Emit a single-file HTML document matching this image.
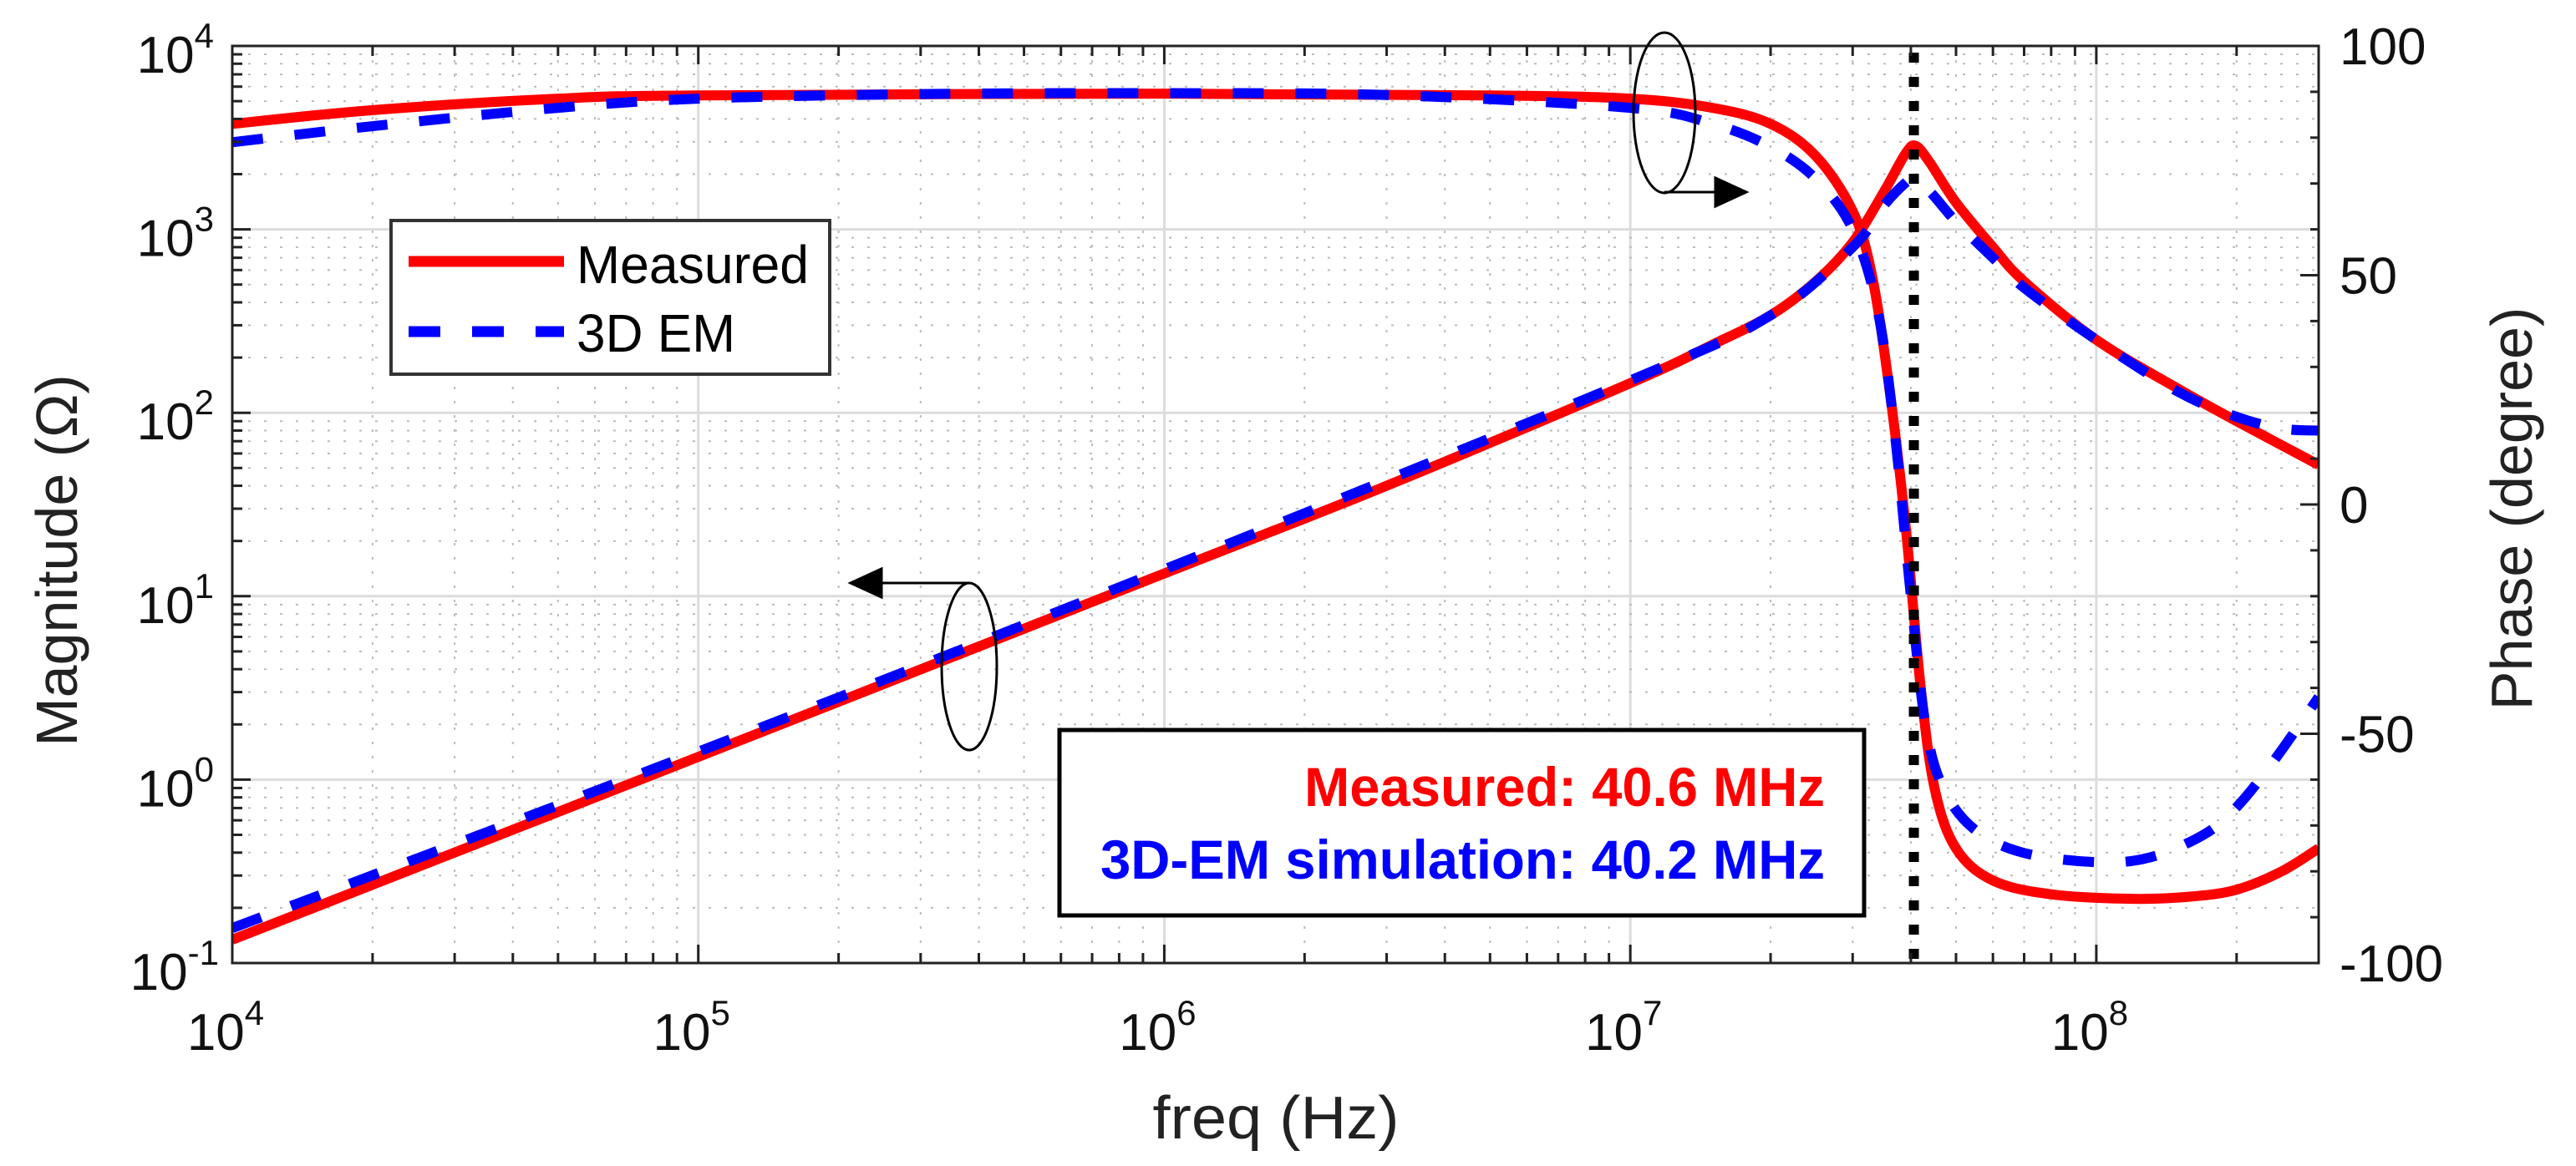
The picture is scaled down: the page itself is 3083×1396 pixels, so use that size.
<!DOCTYPE html>
<html><head><meta charset="utf-8"><style>
html,body{margin:0;padding:0;background:#fff;}
svg{display:block;font-family:"Liberation Sans",Arial,sans-serif;}
</style></head><body>
<svg id="chart" width="3083" height="1396" viewBox="0 0 3083 1396" xmlns="http://www.w3.org/2000/svg">
<g id="grid"></g>
<g id="series"></g>
<g id="axes"></g>
</svg>
<script>
// ---- data ----
const xDecades = [4,5,6,7,8];
const yDecades = [-1,0,1,2,3,4];
const phaseTicks = [100,50,0,-50,-100];
const magMeasuredF = [1e4,1e5,1e6,3e6,1e7,1.5e7,2e7,2.5e7,3e7,3.5e7,3.9e7,4.1e7,4.4e7,5e7,6e7,7e7,1e8,1.5e8,2e8,3e8];
const magMeasuredV = [0.134,1.33,13.3,40,145,235,340,520,850,1600,2600,2850,2300,1400,800,520,250,135,90,52];
const magEMF = [1e4,1e5,1e6,1e7,2e7,3e7,3.5e7,3.9e7,4.05e7,4.4e7,5e7,6e7,7e7,1e8,1.5e8,2e8,2.5e8,3e8];
const magEMV = [0.155,1.42,14,150,340,800,1350,1800,1880,1600,1100,700,480,250,130,95,82,80];
const phMeasuredF = [1e4,2e4,5e4,1e5,1e6,5e6,1e7,1.5e7,2e7,2.5e7,3e7,3.3e7,3.6e7,3.9e7,4.2e7,4.5e7,5e7,6e7,8e7,1.2e8,1.6e8,2e8,2.5e8,3e8];
const phMeasuredV = [83,86,88.5,89.2,89.6,89.2,88.5,86.5,83,76,64,50,25,-5,-40,-62,-75,-82,-85,-86,-85.5,-84,-80,-75];
const phEMF = [1e4,2e4,5e4,1e5,3e5,1e6,3e6,1e7,1.5e7,2e7,2.5e7,3e7,3.4e7,3.7e7,4e7,4.3e7,4.7e7,5.5e7,7e7,1e8,1.3e8,1.7e8,2e8,2.4e8,3e8];
const phEMV = [79,82.5,86.5,88.5,89.5,89.7,89.3,86.5,83,78,71,60,42,15,-20,-48,-62,-71,-76,-78,-77,-72,-66,-56,-42];
const resonanceF = [40.6e6];

// ---- layout ----
const L=278,R=2775,T=55,B=1153;
const xMin=4, xMax=Math.log10(3e8);
const X = f => L + (Math.log10(f)-xMin)/(xMax-xMin)*(R-L);
const YM = v => B - (Math.log10(v)+1)/5*(B-T);
const YP = p => B - (p+100)/200*(B-T);
const NS="http://www.w3.org/2000/svg";
function mk(tag, attrs, parent){const e=document.createElementNS(NS,tag);for(const k in attrs)e.setAttribute(k,attrs[k]);parent.appendChild(e);return e;}
const grid=document.getElementById('grid'), series=document.getElementById('series'), axes=document.getElementById('axes'), svg=document.getElementById('chart');

// grid
for(let d=4; d<=8; d++){
  for(let m=1;m<=9;m++){
    const f=m*Math.pow(10,d); if(f>3e8) break;
    const x=X(f);
    const g=mk('line',{x1:x,x2:x,y1:T,y2:B,stroke:m===1?'#dcdcdc':'#bbb','stroke-width':m===1?3:2,'stroke-dasharray':m===1?'none':'3 14'},grid);
    
    
    mk('line',{x1:x,x2:x,y1:B,y2:B-(m===1?22:12),stroke:'#222','stroke-width':3},axes);
    mk('line',{x1:x,x2:x,y1:T,y2:T+(m===1?22:12),stroke:'#222','stroke-width':3},axes);
  }
}
for(let d=-1; d<4; d++){
  for(let m=1;m<=9;m++){
    const v=m*Math.pow(10,d); const y=YM(v);
    if(m===1 && d===-1) continue;
    const g=mk('line',{x1:L,x2:R,y1:y,y2:y,stroke:m===1?'#dcdcdc':'#bbb','stroke-width':m===1?3:2,'stroke-dasharray':m===1?'none':'3 16'},grid);
    
    
    mk('line',{x1:L,x2:L+(m===1?22:12),y1:y,y2:y,stroke:'#222','stroke-width':3},axes);
  }
}
for(let p=-90;p<100;p+=10){
  const y=YP(p);
  mk('line',{x1:R,x2:R-(p%50===0?22:10),y1:y,y2:y,stroke:'#222','stroke-width':3},axes);
}
// frame
const fr=mk('rect',{x:L,y:T,width:R-L,height:B-T,fill:'none',stroke:'#222','stroke-width':3},axes);



// smooth path
function pathFrom(fs, vs, yf){
  const pts=fs.map((f,i)=>[X(f),yf(vs[i])]);
  let d='M'+pts[0][0]+' '+pts[0][1];
  for(let i=0;i<pts.length-1;i++){
    const p0=pts[Math.max(0,i-1)],p1=pts[i],p2=pts[i+1],p3=pts[Math.min(pts.length-1,i+2)];
    const c1=[p1[0]+(p2[0]-p0[0])/6,p1[1]+(p2[1]-p0[1])/6];
    const c2=[p2[0]-(p3[0]-p1[0])/6,p2[1]-(p3[1]-p1[1])/6];
    d+=` C${c1[0]} ${c1[1]} ${c2[0]} ${c2[1]} ${p2[0]} ${p2[1]}`;
  }
  return d;
}
const cp=mk('clipPath',{id:'clip'},svg); mk('rect',{x:L,y:T,width:R-L,height:B-T},cp);
series.setAttribute('clip-path','url(#clip)');
let s;
s=mk('path',{d:pathFrom(phMeasuredF,phMeasuredV,YP),fill:'none',stroke:'#ff0000','stroke-width':12,'stroke-linejoin':'round'},series);


s=mk('path',{d:pathFrom(magMeasuredF,magMeasuredV,YM),fill:'none',stroke:'#ff0000','stroke-width':12,'stroke-linejoin':'round'},series);


s=mk('path',{d:pathFrom(phEMF,phEMV,YP),fill:'none',stroke:'#0000ff','stroke-width':12,'stroke-dasharray':'37 38'},series);


s=mk('path',{d:pathFrom(magEMF,magEMV,YM),fill:'none',stroke:'#0000ff','stroke-width':12,'stroke-dasharray':'37 38'},series);


s=mk('line',{x1:X(resonanceF[0]),x2:X(resonanceF[0]),y1:T+8,y2:B,stroke:'#000','stroke-width':12,'stroke-dasharray':'12 17'},series);



// tick labels
xDecades.forEach(d=>{
  const t=mk('text',{x:X(Math.pow(10,d))-8,y:1257,'font-size':62,'text-anchor':'middle',fill:'#111'},axes);
  
  
  t.innerHTML='10<tspan dy="-30" font-size="42">'+d+'</tspan>';
});
yDecades.forEach(d=>{
  const t=mk('text',{x:d<0?262:256,y:YM(Math.pow(10,d))+32,'font-size':62,'text-anchor':'end',fill:'#111'},axes);
  
  
  t.innerHTML='10<tspan dy="-30" font-size="42">'+d+'</tspan>';
});
phaseTicks.forEach(p=>{
  const t=mk('text',{x:2800,y:YP(p)+22,'font-size':62,fill:'#111'},axes);
  
  
  t.textContent=String(p);
});
</script>
<svg style="position:absolute;left:0;top:0" width="3083" height="1396" viewBox="0 0 3083 1396" xmlns="http://www.w3.org/2000/svg" font-family="Liberation Sans, Arial, sans-serif">
<text x="1527" y="1363" font-size="72" text-anchor="middle" fill="#222" textLength="295" lengthAdjust="spacingAndGlyphs">freq (Hz)</text>
<text transform="translate(92,671) rotate(-90)" font-size="70" text-anchor="middle" fill="#222">Magnitude (Ω)</text>
<text transform="translate(3030,609) rotate(-90)" font-size="70" text-anchor="middle" fill="#222">Phase (degree)</text>
<g>
<rect x="468" y="264" width="525" height="184" fill="#fff" stroke="#333" stroke-width="4"/>
<line x1="489" y1="313" x2="675" y2="313" stroke="#ff0000" stroke-width="13"/>
<line x1="489" y1="397" x2="675" y2="397" stroke="#0000ff" stroke-width="13" stroke-dasharray="38 38"/>
<text x="690" y="339" font-size="64" fill="#000" textLength="278" lengthAdjust="spacingAndGlyphs">Measured</text>
<text x="690" y="421" font-size="64" fill="#000" textLength="190" lengthAdjust="spacingAndGlyphs">3D EM</text>
</g>
<g>
<rect x="1268" y="874" width="963" height="222" fill="#fff" stroke="#000" stroke-width="5"/>
<text x="2184" y="965" font-size="66" font-weight="bold" fill="#ff0000" text-anchor="end" textLength="623" lengthAdjust="spacingAndGlyphs">Measured: 40.6 MHz</text>
<text x="2184" y="1052" font-size="66" font-weight="bold" fill="#0000ff" text-anchor="end" textLength="867" lengthAdjust="spacingAndGlyphs">3D-EM simulation:  40.2 MHz</text>
</g>
<g fill="none" stroke="#000" stroke-width="3">
<ellipse cx="1992" cy="135" rx="37" ry="96"/>
<line x1="1992" y1="230" x2="2060" y2="230"/>
<polygon points="2053,213 2090,230 2053,247" fill="#000"/>
</g>
<g fill="none" stroke="#000" stroke-width="3">
<ellipse cx="1160" cy="798" rx="33" ry="100"/>
<line x1="1160" y1="698" x2="1050" y2="698"/>
<polygon points="1055,681 1018,698 1055,715" fill="#000"/>
</g>
</svg>
</body></html>
